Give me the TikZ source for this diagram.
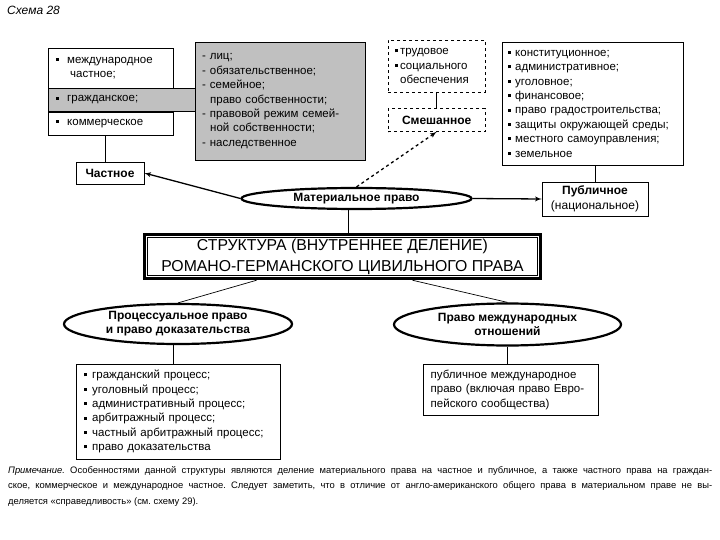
\documentclass[tikz,border=0pt]{standalone}
\usepackage{fontspec}
\setmainfont{Liberation Sans}
\usetikzlibrary{shapes.geometric, arrows, positioning, calc}
\definecolor{boxgray}{RGB}{192,192,192}
\newcommand{\sq}{\rule[2.4pt]{3pt}{3pt}}
\tikzset{
    listbox/.style = {rectangle, draw, fill=white, align=left, inner xsep=8pt, inner ysep=0pt, anchor=north west, font=\fontsize{11.5}{14.4}\selectfont},
    graybox/.style = {listbox, fill=boxgray},
    dashbox/.style = {listbox, dashed},
    tagbox/.style = {rectangle, draw, fill=white, align=center, inner sep=1pt, font=\bfseries\fontsize{12}{15.5}\selectfont},
    branch/.style = {ellipse, draw, fill=white, line width=2.2pt, inner sep=0pt, align=center, font=\bfseries\fontsize{12}{14}\selectfont},
    link/.style = {draw, line width=0.7pt},
    line/.style = {draw, -latex', line width=1.3pt},
    dashedline/.style = {draw, -latex', dashed, line width=1.3pt}
}

\begin{document}
\begin{tikzpicture}[x=1pt, y=-1pt]
        \fill[white] (0,0) rectangle (720,540);
        \useasboundingbox (0,0) rectangle (720,540);
        \node [anchor=west, inner sep=0pt, font=\itshape\fontsize{12}{13}\selectfont] (caption) at (7,10) {Схема 28};

        % Private law
        \node [graybox, minimum height=118, text width=156, inner xsep=7pt] (civilbranch) at (195,42) {- лиц;\\- обязательственное;\\- семейное;\\\hspace*{8pt}право собственности;\\- правовой режим семей-\\\hspace*{8pt}ной собственности;\\- наследственное};
        \node [listbox, minimum height=40, text width=109] (intlcell) at (48,48) {\sq\hspace*{8pt}международное\\\hspace*{14pt}частное;};
        \node [graybox, minimum height=23, text width=131] (civilcell) at (intlcell.south west) {\sq\hspace*{8pt}гражданское;};
        \node [listbox, minimum height=23, text width=109] (commcell) at (civilcell.south west) {\sq\hspace*{8pt}коммерческое};
        \node [tagbox, minimum width=68, minimum height=22] (private) at (110,173) {Частное};

        % Mixed law
        \node [dashbox, minimum height=52, text width=83, inner xsep=7pt] (mixedlist) at (388,40) {\sq\,трудовое\\\sq\,социального\\\hspace*{5pt}обеспечения};
        \node [tagbox, dashed, minimum width=97, minimum height=23, below=16pt of mixedlist] (mixed) {Смешанное};

        % Public law
        \node [listbox, minimum height=123, text width=169, inner xsep=6pt] (publiclist) at (502,42) {\sq\hspace*{4pt}конституционное;\\\sq\hspace*{4pt}административное;\\\sq\hspace*{4pt}уголовное;\\\sq\hspace*{4pt}финансовое;\\\sq\hspace*{4pt}право градостроительства;\\\sq\hspace*{4pt}защиты окружающей среды;\\\sq\hspace*{4pt}местного самоуправления;\\\sq\hspace*{4pt}земельное};
        \node [tagbox, minimum width=106, minimum height=34] (public) at (595,199) {Публичное\\{\mdseries(национальное)}};

        % Substantive law and the structure
        \node [branch, minimum width=230, minimum height=21] (substantive) at (356.5,198.5) {Материальное право};
        \node [rectangle, draw, line width=3.5pt, minimum width=396, minimum height=44, align=center, font=\fontsize{15.8}{21}\selectfont] (structure) at (342.5,256.5) {СТРУКТУРА (ВНУТРЕННЕЕ ДЕЛЕНИЕ)\\РОМАНО-ГЕРМАНСКОГО ЦИВИЛЬНОГО ПРАВА};
        \draw [line width=0.8pt] ([shift={(5,5)}]structure.north west) rectangle ([shift={(-5,-5)}]structure.south east);

        % Procedural law and international relations
        \node [branch, minimum width=228, minimum height=40] (procedural) at (178,324) {Процессуальное право\\и право доказательства};
        \node [branch, minimum width=227, minimum height=42] (intrel) at (507.5,324.5) {Право международных\\отношений};
        \node [listbox, minimum height=95, text width=188, inner xsep=8pt] (proclist) at (76,364) {\sq\hspace*{5pt}гражданский процесс;\\\sq\hspace*{5pt}уголовный процесс;\\\sq\hspace*{5pt}административный процесс;\\\sq\hspace*{5pt}арбитражный процесс;\\\sq\hspace*{5pt}частный арбитражный процесс;\\\sq\hspace*{5pt}право доказательства};
        \node [listbox, minimum height=51, text width=160, inner xsep=7.5pt] (intrellist) at (423,364) {\makebox[160pt][s]{публичное международное}\\право (включая право Евро-\\пейского сообщества)};

        % Edges
        \path [link] (intlcell.south west |- commcell.south) ++(57,0) -- (private.north -| 105,0);
        \path [link] (mixedlist.south) -- (mixed.north);
        \path [link] (public.north) -- (public.north |- publiclist.south);
        \path [line] (substantive.west) -- (private.east);
        \path [line] (substantive.east) -- (public.west);
        \path [dashedline] (substantive.north) -- (mixed.south);
        \path [link] ([xshift=-8pt]substantive.south) -- ([xshift=-8pt]substantive.south |- structure.north);
        \path [link] ([xshift=-86pt]structure.south) -- (procedural.north);
        \path [link] ([xshift=70pt]structure.south) -- (intrel.north);
        \path [link] ([xshift=-5pt]procedural.south) -- ([xshift=-5pt]procedural.south |- proclist.north);
        \path [link] (intrel.south) -- (intrel.south |- intrellist.north);

        % Note
        \node [anchor=north west, inner sep=0pt, align=left, font=\frenchspacing\fontsize{9.4}{15.5}\selectfont] (note) at (8,466) {\makebox[704pt][s]{\textit{Примечание.} Особенностями данной структуры являются деление материального права на частное и публичное, а также частного права на граждан-}\\\makebox[704pt][s]{ское, коммерческое и международное частное. Следует заметить, что в отличие от англо-американского общего права в материальном праве не вы-}\\деляется «справедливость» (см. схему 29).};
    \end{tikzpicture}
\end{document}
